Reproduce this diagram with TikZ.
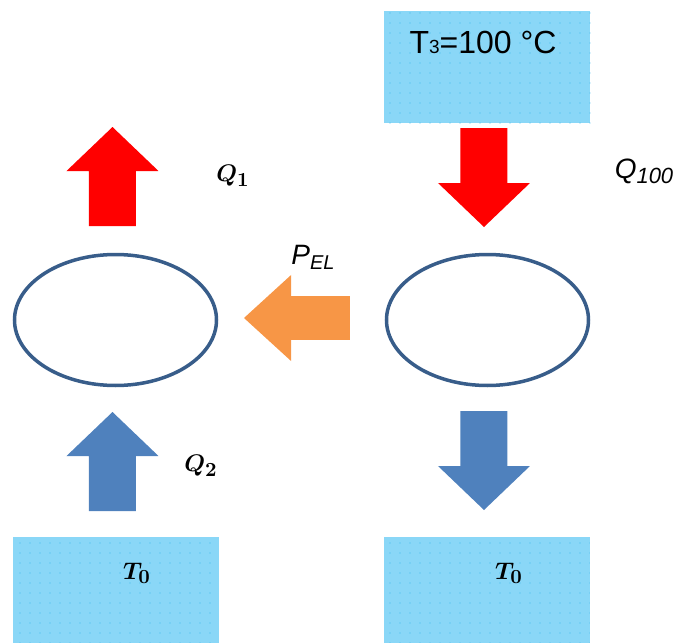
\documentclass[tikz,border=0pt]{standalone}
\usepackage{fontspec}
\newfontfamily\arialfont{Liberation Sans}
\usetikzlibrary{shapes.geometric,patterns.meta}
\DeclareMathSizes{12}{12}{10}{8}

\definecolor{boxblue}{HTML}{8AD7F7}
\definecolor{dotblue}{HTML}{3CBDEE}
\definecolor{ringblue}{HTML}{385D8A}
\definecolor{flowblue}{HTML}{4F81BD}
\definecolor{flowred}{HTML}{FF0000}
\definecolor{floworange}{HTML}{F79646}

\tikzset{
  reservoir/.style={rectangle, fill=boxblue, inner sep=0pt,
    minimum width=103pt, minimum height=53pt,
    postaction={pattern={Dots[radius=0.35pt, distance=5pt]}, pattern color=dotblue}},
  machine/.style={ellipse, draw=ringblue, line width=1.75pt, inner sep=0pt,
    minimum width=101pt, minimum height=65.5pt},
  sanslabel/.style={font=\arialfont\itshape\fontsize{14}{16}\selectfont},
  mathlabel/.style={font=\fontsize{12}{14}\selectfont\boldmath},
  blockarrow/.pic={
    \fill (0,0) -- (46,44) -- (23.5,44) -- (23.5,99) -- (-23.5,99)
      -- (-23.5,44) -- (-46,44) -- cycle;
  },
}

\begin{document}
\begin{tikzpicture}[x=0.5pt, y=-0.5pt]
  \useasboundingbox (0,0) rectangle (677,643);

  % reservoirs
  \node[reservoir, minimum height=56pt] (hot) at (487.5,67) {};
  \node[font=\arialfont\fontsize{16}{18}\selectfont] (hotlbl) at (483,42)
    {T{\fontsize{9.5}{11}\selectfont 3}=100 °C};
  \node[reservoir] (coldL) at (116,590) {};
  \node[reservoir] (coldR) at (487,590) {};
  \node[mathlabel] (coldLlbl) at (137,573) {$T_0$};
  \node[mathlabel] (coldRlbl) at (509,573) {$T_0$};

  % the two machines
  \node[machine] (pumpL) at (115.5,320) {};
  \node[machine] (pumpR) at (487.5,320) {};

  % heat and power flows
  \pic[flowred] at (112.5,127) {blockarrow};
  \pic[flowred, rotate=180] at (484,227) {blockarrow};
  \pic[flowblue] at (112.5,412) {blockarrow};
  \pic[flowblue, rotate=180] at (484,510) {blockarrow};
  \pic[floworange, rotate=90, xscale=.935, yscale=1.07] at (244,318) {blockarrow};

  % labels
  \node[mathlabel] (qone) at (233,176) {$Q_1$};
  \node[mathlabel] (qtwo) at (201,466) {$Q_2$};
  \node[sanslabel] (qhund) at (644,171)
    {Q\raisebox{-2.5pt}{\fontsize{11}{12}\selectfont 100}};
  \node[sanslabel] (pel) at (313,257)
    {P\raisebox{-2.5pt}{\fontsize{10}{11}\selectfont EL}};
\end{tikzpicture}
\end{document}
